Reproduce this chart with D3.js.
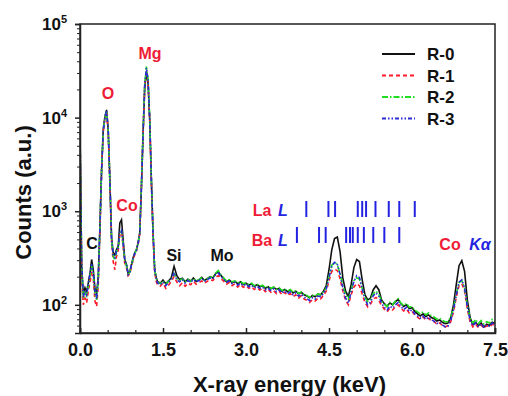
<!DOCTYPE html>
<html>
<head>
<meta charset="utf-8">
<script src="https://cdn.jsdelivr.net/npm/d3@7"></script>
<style>
  body { margin: 0; background: #fff; }
  text { font-family: "Liberation Sans", Arial, sans-serif; font-weight: bold; }
</style>
</head>
<body>
<script>
// energy channels (keV)
const energy = [
  0.00, 0.03, 0.06, 0.09, 0.12, 0.15, 0.18, 0.21, 0.24, 0.27, 0.30, 0.33, 0.36, 0.39, 0.42, 0.45,
  0.48, 0.51, 0.54, 0.57, 0.60, 0.63, 0.66, 0.69, 0.72, 0.75, 0.78, 0.81, 0.84, 0.87, 0.90, 0.93,
  0.96, 0.99, 1.02, 1.05, 1.08, 1.11, 1.14, 1.17, 1.20, 1.23, 1.26, 1.29, 1.32, 1.35, 1.38,
  1.40, 1.45, 1.50, 1.55, 1.60, 1.65, 1.70, 1.75, 1.80, 1.85, 1.90, 1.95, 2.00, 2.05, 2.10, 2.15,
  2.20, 2.25, 2.30, 2.35, 2.40, 2.45, 2.50, 2.55, 2.60, 2.65, 2.70, 2.75, 2.80, 2.85, 2.90, 2.95,
  3.00, 3.05, 3.10, 3.15, 3.20, 3.25, 3.30, 3.35, 3.40, 3.45, 3.50, 3.55, 3.60, 3.65, 3.70, 3.75,
  3.80, 3.85, 3.90, 3.95, 4.00, 4.05, 4.10, 4.15, 4.20, 4.25, 4.30, 4.35, 4.40, 4.45, 4.50, 4.55,
  4.60, 4.65, 4.70, 4.75, 4.80, 4.85, 4.90, 4.95, 5.00, 5.05, 5.10, 5.15, 5.20, 5.25, 5.30, 5.35,
  5.40, 5.45, 5.50, 5.55, 5.60, 5.65, 5.70, 5.75, 5.80, 5.85, 5.90, 5.95, 6.00, 6.05, 6.10, 6.15,
  6.20, 6.25, 6.30, 6.35, 6.40, 6.45, 6.50, 6.55, 6.60, 6.65, 6.70, 6.75, 6.80, 6.85, 6.90, 6.95,
  7.00, 7.05, 7.10, 7.15, 7.20, 7.25, 7.30, 7.35, 7.40, 7.45, 7.50
];

const r0 = [
  7000, 260, 131, 152, 138, 172, 216, 305, 237, 150, 131, 200, 680, 2770, 7390, 10200,
  12080, 7390, 2150, 530, 360, 340, 390, 420, 750, 810, 495, 305, 270, 216, 225, 270,
  318, 360, 390, 460, 590, 1830, 6900, 21000, 30000, 23500, 9500, 2150, 590, 237, 194,
  178, 170, 184, 168, 180, 195, 258, 205, 186, 192, 176, 188, 180, 194, 178, 185,
  196, 182, 190, 200, 194, 215, 225, 205, 190, 176, 184, 172, 178, 168, 176, 165,
  170, 162, 168, 158, 164, 156, 160, 150, 156, 148, 154, 146, 150, 140, 146, 138,
  145, 134, 140, 131, 136, 128, 124, 119, 126, 122, 130, 128, 140, 160, 237, 387,
  510, 530, 370, 194, 140, 123, 164, 250, 305, 290, 185, 128, 113, 118, 145, 160,
  145, 113, 103, 96, 105, 100, 108, 114, 103, 96, 100, 91, 93, 85, 80, 76,
  80, 75, 78, 73, 71, 67, 69, 65, 63, 64, 73, 100, 164, 262, 296, 228,
  113, 73, 61, 65, 60, 64, 58, 62, 60, 65, 63
];

const r1 = [
  6500, 200, 100, 118, 105, 140, 175, 215, 190, 110, 96, 160, 600, 2600, 7000, 9800,
  11500, 7000, 2000, 480, 290, 237, 330, 380, 560, 600, 420, 270, 250, 205, 215, 255,
  300, 345, 375, 440, 570, 1750, 6600, 22000, 32000, 24000, 9200, 2050, 560, 220, 175,
  165, 158, 170, 150, 162, 178, 200, 175, 160, 172, 158, 170, 164, 178, 166, 172,
  180, 170, 178, 186, 182, 196, 205, 190, 178, 166, 174, 160, 168, 155, 165, 154,
  160, 150, 156, 146, 152, 144, 150, 138, 146, 136, 142, 132, 140, 128, 136, 126,
  132, 122, 128, 118, 125, 115, 112, 106, 114, 110, 118, 116, 126, 140, 180, 228,
  240, 232, 190, 140, 112, 100, 128, 155, 168, 160, 130, 106, 95, 102, 115, 120,
  112, 98, 90, 84, 92, 88, 95, 100, 92, 86, 90, 82, 85, 78, 74, 70,
  74, 69, 72, 67, 66, 62, 64, 60, 58, 60, 66, 84, 120, 160, 168, 140,
  90, 66, 58, 62, 57, 61, 56, 60, 58, 62, 60
];

const r2 = [
  7500, 260, 118, 135, 125, 160, 205, 260, 215, 130, 113, 185, 660, 2700, 7300, 10100,
  11800, 7200, 2100, 510, 330, 300, 370, 400, 590, 610, 440, 290, 262, 212, 222, 262,
  310, 352, 385, 455, 585, 1800, 7000, 23000, 35000, 26000, 9800, 2200, 600, 235, 190,
  176, 168, 180, 166, 178, 188, 215, 190, 182, 190, 174, 186, 178, 190, 180, 186,
  194, 184, 190, 198, 196, 218, 232, 208, 192, 180, 186, 176, 180, 170, 178, 168,
  172, 164, 170, 160, 166, 158, 162, 152, 158, 150, 155, 146, 152, 142, 148, 140,
  146, 136, 142, 132, 137, 128, 126, 120, 127, 124, 130, 129, 138, 152, 200, 265,
  282, 270, 215, 160, 128, 115, 145, 180, 195, 188, 150, 120, 108, 115, 132, 140,
  130, 110, 102, 96, 106, 100, 110, 116, 104, 98, 104, 94, 96, 88, 84, 80,
  84, 78, 82, 76, 74, 70, 72, 68, 66, 66, 74, 92, 130, 172, 182, 150,
  98, 72, 64, 70, 63, 68, 62, 66, 64, 70, 66
];

const r3 = [
  7800, 280, 122, 140, 128, 165, 212, 272, 220, 135, 115, 190, 650, 2650, 7200, 10000,
  11900, 7300, 2080, 500, 340, 320, 375, 405, 610, 630, 450, 295, 265, 210, 220, 265,
  312, 355, 382, 450, 580, 1780, 6800, 22500, 34000, 25000, 9600, 2150, 590, 230, 186,
  172, 164, 176, 160, 174, 186, 222, 185, 176, 186, 170, 182, 174, 186, 176, 182,
  190, 178, 186, 194, 190, 208, 218, 200, 186, 174, 180, 168, 174, 162, 170, 160,
  166, 156, 162, 152, 158, 150, 154, 144, 150, 142, 148, 138, 145, 134, 140, 131,
  138, 128, 134, 124, 130, 120, 117, 111, 119, 115, 124, 122, 132, 148, 195, 258,
  285, 272, 212, 152, 118, 104, 138, 178, 205, 196, 148, 114, 100, 106, 125, 134,
  124, 104, 94, 88, 97, 92, 100, 106, 96, 89, 94, 85, 88, 80, 76, 72,
  76, 70, 74, 69, 67, 63, 65, 61, 58, 59, 68, 88, 128, 175, 185, 152,
  95, 68, 60, 64, 58, 63, 57, 61, 59, 64, 61
];

const seriesNames = ['R-0', 'R-1', 'R-2', 'R-3'];
const seriesColors = ['#111111', '#ff1a2a', '#1fdd1f', '#2a2ad8'];
const seriesDash = [null, '4,3', '6,2,1.5,2', '4,2,1.5,2,1.5,2'];

const xTicks = [0, 1.5, 3.0, 4.5, 6.0, 7.5];
const xMinor = [0.5, 1.0, 2.0, 2.5, 3.5, 4.0, 5.0, 5.5, 6.5, 7.0];
const yTicks = [1e2, 1e3, 1e4, 1e5];
const yExps = ['2', '3', '4', '5'];

// characteristic line markers (keV)
const laLines = [4.09, 4.49, 4.61, 5.02, 5.10, 5.17, 5.34, 5.58, 5.77, 6.05];
const baLines = [3.92, 4.32, 4.44, 4.81, 4.88, 4.93, 5.02, 5.13, 5.30, 5.50, 5.77];

const W = 508, H = 396;
const m = { left: 80, right: 13, top: 24, bottom: 63 };

const svg = d3.select('body').append('svg')
  .attr('width', W).attr('height', H);

const x = d3.scaleLinear().domain([0, 7.5]).range([m.left, W - m.right]);
const y = d3.scaleLog().domain([50, 1e5]).range([H - m.bottom, m.top]);

// y minor ticks
const yMinor = [];
[10, 100, 1000, 10000].forEach(d => {
  for (let k = 2; k <= 9; k++) if (d * k >= 50) yMinor.push(d * k);
});

svg.append('defs').append('clipPath').attr('id', 'clip')
  .append('rect')
  .attr('x', x(0)).attr('y', y(1e5))
  .attr('width', x(7.5) - x(0)).attr('height', y(50) - y(1e5));

// spectra
const allSeries = [r0, r1, r2, r3];
const line = d3.line()
  .x((d, i) => x(energy[i]))
  .y(d => y(d));

const plot = svg.append('g').attr('clip-path', 'url(#clip)');
allSeries.forEach((s, k) => {
  plot.append('path')
    .datum(s)
    .attr('fill', 'none')
    .attr('stroke', seriesColors[k])
    .attr('stroke-width', 1.6)
    .attr('stroke-dasharray', seriesDash[k])
    .attr('d', line);
});

// frame
svg.append('rect')
  .attr('x', x(0)).attr('y', y(1e5))
  .attr('width', x(7.5) - x(0)).attr('height', y(50) - y(1e5))
  .attr('fill', 'none').attr('stroke', '#222').attr('stroke-width', 1.5);

// x axis
const xAxis = svg.append('g')
  .attr('transform', `translate(0,${y(50)})`)
  .call(d3.axisBottom(x).tickValues(xTicks).tickSize(-5).tickPadding(10).tickFormat(d3.format('.1f')));
xAxis.select('.domain').attr('stroke', '#222').attr('stroke-width', 1.5);
xAxis.selectAll('.tick line').attr('stroke', '#222').attr('stroke-width', 1.5);
xAxis.selectAll('.tick text')
  .attr('font-size', 18).attr('font-weight', 'bold').attr('fill', '#111')
  .attr('font-family', '"Liberation Sans", Arial, sans-serif');

svg.append('g')
  .attr('transform', `translate(0,${y(50)})`)
  .call(d3.axisBottom(x).tickValues(xMinor).tickSize(-3).tickFormat(''))
  .call(g => g.select('.domain').remove())
  .selectAll('.tick line').attr('stroke', '#222').attr('stroke-width', 1.2);

// y axis
const yAxis = svg.append('g')
  .attr('transform', `translate(${x(0)},0)`)
  .call(d3.axisLeft(y).tickValues(yTicks).tickSize(5).tickFormat(''));
yAxis.select('.domain').attr('stroke', '#222').attr('stroke-width', 1.5);
yAxis.selectAll('.tick line').attr('stroke', '#222').attr('stroke-width', 1.5);

svg.append('g')
  .attr('transform', `translate(${x(0)},0)`)
  .call(d3.axisLeft(y).tickValues(yMinor).tickSize(3).tickFormat(''))
  .call(g => g.select('.domain').remove())
  .selectAll('.tick line').attr('stroke', '#222').attr('stroke-width', 1);

const yLab = svg.append('g');
yTicks.forEach((v, i) => {
  const t = yLab.append('text')
    .attr('x', 67).attr('y', y(v) + 6)
    .attr('text-anchor', 'end')
    .attr('font-size', 17).attr('fill', '#111');
  t.append('tspan').text('10');
  t.append('tspan').attr('dy', -7).attr('font-size', 11).text(yExps[i]);
});

// axis titles
svg.append('text')
  .attr('x', (x(0) + x(7.5)) / 2 + 2).attr('y', 392)
  .attr('text-anchor', 'middle').attr('font-size', 22).attr('fill', '#111')
  .text('X-ray energy (keV)');

svg.append('text')
  .attr('transform', `translate(31,${(y(1e5) + y(50)) / 2 + 14}) rotate(-90)`)
  .attr('text-anchor', 'middle').attr('font-size', 22).attr('fill', '#111')
  .text('Counts (a.u.)');

// legend
const leg = svg.append('g');
seriesNames.forEach((n, k) => {
  const ly = 54 + k * 21.5;
  leg.append('line')
    .attr('x1', 382).attr('x2', 415).attr('y1', ly).attr('y2', ly)
    .attr('stroke', seriesColors[k]).attr('stroke-width', 1.8)
    .attr('stroke-dasharray', seriesDash[k]);
  leg.append('text')
    .attr('x', 427).attr('y', ly + 6)
    .attr('font-size', 17).attr('fill', '#111').text(n);
});

// element labels
const red = '#ee1c36', blue = '#2424e0';
const labels = [
  { t: 'C', x: 92, y: 249, c: '#111' },
  { t: 'O', x: 108, y: 99, c: red },
  { t: 'Mg', x: 150, y: 59, c: red },
  { t: 'Co', x: 127, y: 211, c: red },
  { t: 'Si', x: 174, y: 261, c: '#111' },
  { t: 'Mo', x: 222, y: 261, c: '#111' },
  { t: 'La', x: 262, y: 216, c: red },
  { t: 'Ba', x: 262, y: 246, c: red },
  { t: 'Co', x: 450, y: 250, c: red }
];
labels.forEach(l => {
  svg.append('text').attr('x', l.x).attr('y', l.y)
    .attr('text-anchor', 'middle').attr('font-size', 16).attr('fill', l.c).text(l.t);
});
[['L', 283, 216], ['L', 283, 246], ['Kα', 480, 250]].forEach(([t, lx, ly]) => {
  svg.append('text').attr('x', lx).attr('y', ly)
    .attr('text-anchor', 'middle').attr('font-size', 16)
    .attr('font-style', 'italic').attr('fill', blue).text(t);
});

// La L and Ba L line markers
svg.append('g').selectAll('line').data(laLines).join('line')
  .attr('x1', d => x(d)).attr('x2', d => x(d))
  .attr('y1', 201).attr('y2', 217)
  .attr('stroke', blue).attr('stroke-width', 2);
svg.append('g').selectAll('line').data(baLines).join('line')
  .attr('x1', d => x(d)).attr('x2', d => x(d))
  .attr('y1', 227).attr('y2', 243)
  .attr('stroke', blue).attr('stroke-width', 2);
</script>
</body>
</html>
